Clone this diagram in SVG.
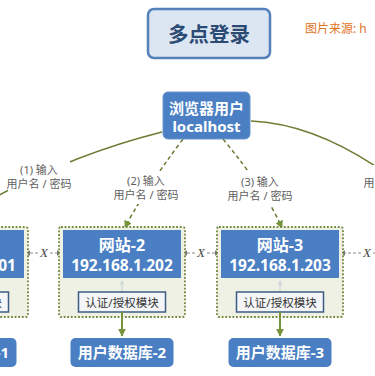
<svg xmlns="http://www.w3.org/2000/svg" width="375" height="376" viewBox="0 0 375 376">
<defs>
<style>
text{font-family:"Noto Sans","Noto Sans CJK SC",sans-serif}
.blue{fill:#4b7fc4}
.wb{fill:#fff;font-weight:bold;text-anchor:middle}
.cont{fill:#eef1e3;stroke:#72883c;stroke-width:1.8;stroke-dasharray:1.8 1.8}
.auth{fill:#f3f5f7;stroke:#3e5c86;stroke-width:1.5}
.at{fill:#333;font-size:11.5px;text-anchor:middle}
.lbl{fill:#5f5f5f;font-size:11px;text-anchor:middle}
.xl{fill:none;stroke:#8a8a8a;stroke-width:1.2;stroke-dasharray:3 2}
.xt{fill:#444;font-size:13px;font-style:italic;text-anchor:middle;font-family:"Liberation Serif",serif}
.curve{fill:none;stroke:#6b7d32;stroke-width:1.5}
.dash{fill:none;stroke:#6b7d32;stroke-width:1.5;stroke-dasharray:4 3}
.db{fill:none;stroke:#77933c;stroke-width:2}
.thin{fill:none;stroke:#c5ccd6;stroke-width:1}
</style>
<marker id="ao" viewBox="0 0 10 10" refX="9" refY="5" markerWidth="8" markerHeight="8" markerUnits="userSpaceOnUse" orient="auto"><path d="M0,0 L10,5 L0,10 z" fill="#77933c"/></marker>
<marker id="ag" viewBox="0 0 10 10" refX="9" refY="5" markerWidth="6" markerHeight="6" markerUnits="userSpaceOnUse" orient="auto-start-reverse"><path d="M0,0 L10,5 L0,10 z" fill="#7a7a7a"/></marker>
<marker id="al" viewBox="0 0 10 10" refX="9" refY="5" markerWidth="5" markerHeight="5" markerUnits="userSpaceOnUse" orient="auto"><path d="M0,1 L10,5 L0,9" fill="none" stroke="#c5ccd6" stroke-width="1.5"/></marker>
</defs>

<g id="title">
<rect x="148" y="9" width="122" height="49" rx="6" fill="#dce6f2" stroke="#5581ba" stroke-width="2.5"/>
<text x="209" y="42" font-size="20.5" font-weight="bold" fill="#2b4a74" text-anchor="middle">多点登录</text>
</g>
<g id="source">
<text x="305" y="33" font-size="12" fill="#e07324">图片来源: h</text>
</g>

<g id="connectors">
<path class="curve" d="M162,132 Q63,157 -20,206"/>
<path class="curve" d="M251,121 Q320,124 395,180"/>
<path class="dash" d="M183,139 Q139,198 125,228" marker-end="url(#ao)"/>
<path class="dash" d="M223,139 Q266,191 282,228" marker-end="url(#ao)"/>
<rect x="8" y="160" width="62" height="32" fill="#fff"/>
<rect x="108" y="172" width="76" height="32" fill="#fff"/>
<rect x="226" y="172" width="70" height="33" fill="#fff"/>
<rect x="356" y="165" width="80" height="30" fill="#fff"/>
<text class="lbl" x="39" y="174">(1) 输入</text>
<text class="lbl" x="39" y="188">用户名 / 密码</text>
<text class="lbl" x="146" y="185">(2) 输入</text>
<text class="lbl" x="146" y="199">用户名 / 密码</text>
<text class="lbl" x="260" y="186">(3) 输入</text>
<text class="lbl" x="260" y="200">用户名 / 密码</text>
<text class="lbl" x="396" y="173">(4) 输入</text>
<text class="lbl" x="396" y="187">用户名 / 密码</text>

<path class="xl" d="M38,253 H25" marker-end="url(#ag)"/>
<path class="xl" d="M50,253 H62" marker-end="url(#ag)"/>
<text class="xt" x="44" y="257">X</text>
<path class="xl" d="M195,253 H182" marker-end="url(#ag)"/>
<path class="xl" d="M207,253 H220" marker-end="url(#ag)"/>
<text class="xt" x="201" y="257">X</text>
<path class="xl" d="M361,253 H340" marker-end="url(#ag)"/>
<path class="xl" d="M373,253 H385"/>
<text class="xt" x="367" y="257">X</text>
</g>

<g id="browser">
<rect x="163" y="92" width="87" height="47" rx="5" fill="#4b7fc4" stroke="#6b95cf" stroke-width="1"/>
<text class="wb" x="206.5" y="114" font-size="15">浏览器用户</text>
<text class="wb" x="206.5" y="132" font-size="15">localhost</text>
</g>

<g id="site1">
<rect class="cont" x="-98" y="227" width="126" height="90" rx="2"/>
<rect class="blue" x="-94" y="230" width="118" height="48"/>
<text class="wb" x="-35" y="251" font-size="16">网站-1</text>
<text class="wb" x="-35" y="271" font-size="15.5">192.168.1.201</text>
<path class="thin" d="M-35,292 V281" marker-end="url(#al)"/>
<rect class="auth" x="-78.5" y="292" width="87" height="20"/>
<text class="at" x="-35" y="307">认证/授权模块</text>
<path class="db" d="M-35,312 V336" marker-end="url(#ao)"/>
<rect class="blue" x="-86.5" y="338" width="103" height="29" rx="5"/>
<text class="wb" x="-35" y="358" font-size="15">用户数据库-1</text>
</g>

<g id="site2">
<rect class="cont" x="59" y="227" width="126" height="90" rx="2"/>
<rect class="blue" x="63" y="230" width="118" height="48"/>
<text class="wb" x="122" y="251" font-size="16">网站-2</text>
<text class="wb" x="122" y="271" font-size="15.5">192.168.1.202</text>
<path class="thin" d="M122,292 V281" marker-end="url(#al)"/>
<rect class="auth" x="78.5" y="292" width="87" height="20"/>
<text class="at" x="122" y="307">认证/授权模块</text>
<path class="db" d="M122,312 V336" marker-end="url(#ao)"/>
<rect class="blue" x="70.5" y="338" width="103" height="29" rx="5"/>
<text class="wb" x="122" y="358" font-size="15">用户数据库-2</text>
</g>

<g id="site3">
<rect class="cont" x="217" y="227" width="126" height="90" rx="2"/>
<rect class="blue" x="221" y="230" width="118" height="48"/>
<text class="wb" x="280" y="251" font-size="16">网站-3</text>
<text class="wb" x="280" y="271" font-size="15.5">192.168.1.203</text>
<path class="thin" d="M280,292 V281" marker-end="url(#al)"/>
<rect class="auth" x="236.5" y="292" width="87" height="20"/>
<text class="at" x="280" y="307">认证/授权模块</text>
<path class="db" d="M280,312 V336" marker-end="url(#ao)"/>
<rect class="blue" x="228.5" y="338" width="103" height="29" rx="5"/>
<text class="wb" x="280" y="358" font-size="15">用户数据库-3</text>
</g>
</svg>
